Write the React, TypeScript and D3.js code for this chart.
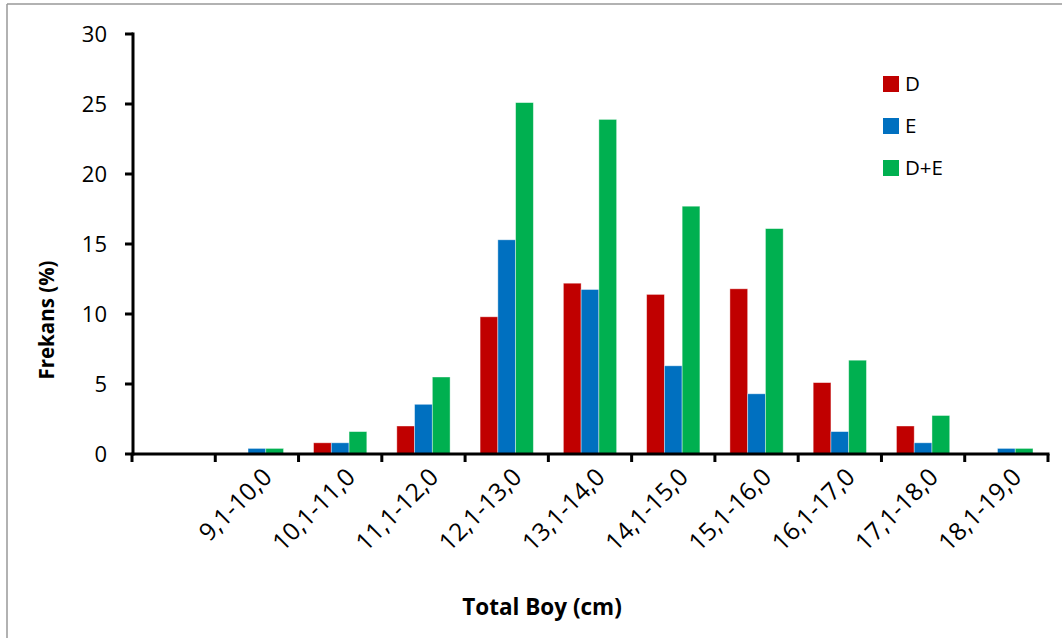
import React from "react";
import * as d3 from "d3";

const categories = ["", "9,1-10,0", "10,1-11,0", "11,1-12,0", "12,1-13,0", "13,1-14,0", "14,1-15,0", "15,1-16,0", "16,1-17,0", "17,1-18,0", "18,1-19,0"];
const seriesNames = ["D", "E", "D+E"];
const valuesD = [0, 0, 0.8, 2.0, 9.8, 12.2, 11.4, 11.8, 5.1, 2.0, 0];
const valuesE = [0, 0.4, 0.8, 3.55, 15.3, 11.75, 6.3, 4.3, 1.6, 0.8, 0.4];
const valuesDE = [0, 0.4, 1.6, 5.5, 25.1, 23.9, 17.7, 16.1, 6.7, 2.75, 0.4];
const yTicks = [0, 5, 10, 15, 20, 25, 30];
const colors = ["#C00000", "#0070C0", "#00B050"];

const W = 1062;
const H = 638;
const FONT = "'Open Sans', 'Noto Sans', sans-serif";

export default function App() {
  const x = d3.scaleBand<string>().domain(categories).range([132, 1048]).paddingInner(0).paddingOuter(0);
  const bw = x.bandwidth();
  const x1 = d3.scaleBand<string>().domain(seriesNames).range([15, bw - 15]).padding(0);
  const y = d3.scaleLinear().domain([0, 30]).range([454, 34]);
  const allSeries = [valuesD, valuesE, valuesDE];
  const tickXs = d3.range(categories.length + 1).map((i) => 132 + i * bw);

  return (
    <div style={{ position: "absolute", left: 0, top: 0 }}>
      <svg width={W} height={H} style={{ display: "block", background: "#fff" }}>
        {/* outer border */}
        <line x1={7} y1={4} x2={W} y2={4} stroke="#999" strokeWidth={1.5} />
        <line x1={7} y1={4} x2={7} y2={H} stroke="#999" strokeWidth={1.5} />

        {/* bars */}
        {allSeries.map((vals, si) =>
          vals.map((v, ci) =>
            v > 0 ? (
              <rect
                key={`${si}-${ci}`}
                x={(x(categories[ci]) as number) + (x1(seriesNames[si]) as number)}
                y={y(v)}
                width={x1.bandwidth()}
                height={y(0) - y(v)}
                fill={colors[si]}
                stroke="#ffffff"
                strokeOpacity={0.5}
                strokeWidth={0.8}
              />
            ) : null
          )
        )}

        {/* y axis */}
        <line x1={133} y1={y(30) - 1.5} x2={133} y2={y(0) + 1.5} stroke="#000" strokeWidth={3} />
        {yTicks.map((t) => (
          <g key={t}>
            <line x1={125} x2={133} y1={y(t)} y2={y(t)} stroke="#000" strokeWidth={3} />
            <text x={107} y={y(t)} dy="0.36em" textAnchor="end" fontFamily={FONT} fontSize={22} fill="#000">
              {t}
            </text>
          </g>
        ))}

        {/* x axis */}
        <line x1={131.5} x2={1049.5} y1={y(0)} y2={y(0)} stroke="#000" strokeWidth={3} />
        {tickXs.map((tx, i) => (
          <line key={i} x1={tx} x2={tx} y1={y(0)} y2={y(0) + 8} stroke="#000" strokeWidth={3} />
        ))}
        {categories.map((c) =>
          c ? (
            <text
              key={c}
              transform={`translate(${(x(c) as number) + bw / 2 + 4},${466}) rotate(-45)`}
              textAnchor="end"
              dy="0.72em"
              fontFamily={FONT}
              fontSize={24.5}
              fill="#000"
            >
              {c}
            </text>
          ) : null
        )}

        {/* axis titles */}
        <text x={542} y={615} textAnchor="middle" fontFamily={FONT} fontWeight="bold" fontSize={22.5} fill="#000">
          Total Boy (cm)
        </text>
        <text
          transform={`translate(54,320) rotate(-90)`}
          textAnchor="middle"
          fontFamily={FONT}
          fontWeight="bold"
          fontSize={20.5}
          fill="#000"
        >
          Frekans (%)
        </text>

        {/* legend */}
        {seriesNames.map((s, i) => (
          <g key={s} transform={`translate(883,${84 + i * 42})`}>
            <rect x={0} y={-8} width={16} height={16} fill={colors[i]} />
            <text x={22} y={0} dy="0.36em" fontFamily={FONT} fontSize={20.5} fill="#000">
              {s}
            </text>
          </g>
        ))}
      </svg>
    </div>
  );
}
